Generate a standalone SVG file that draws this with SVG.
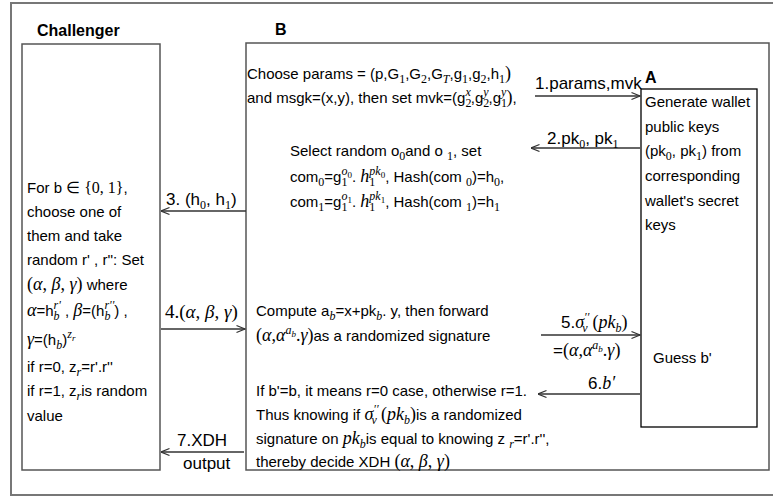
<svg xmlns="http://www.w3.org/2000/svg" width="773" height="497" viewBox="0 0 773 497">
<defs>
<style>
.t{font-family:"Liberation Sans",Arial,sans-serif;font-size:15px;fill:#000}
.l{font-family:"Liberation Sans",Arial,sans-serif;font-size:17px;fill:#000}
.h{font-family:"Liberation Sans",Arial,sans-serif;font-size:16px;font-weight:bold;fill:#000}
.it{font-family:"Liberation Serif","Times New Roman",serif;font-style:italic;font-size:18px}
.rm{font-family:"Liberation Serif","Times New Roman",serif;font-style:normal;font-size:18px}
.sub{font-family:"Liberation Serif","Times New Roman",serif;font-style:normal;font-size:12px;baseline-shift:-4px}
.subi{font-family:"Liberation Serif","Times New Roman",serif;font-style:italic;font-size:12px;baseline-shift:-4px}
.sup{font-family:"Liberation Serif","Times New Roman",serif;font-style:italic;font-size:12px;baseline-shift:7px}
.tiny{font-family:"Liberation Serif","Times New Roman",serif;font-style:italic;font-size:9px;baseline-shift:4px}
.box{fill:none;stroke:#555;stroke-width:1.5}
.abox{fill:#fff;stroke:#000;stroke-width:1.3}
.frame{fill:none;stroke:#777;stroke-width:2}
.c{fill:none;stroke:#333;stroke-width:1.5;marker-end:url(#ah)}
</style>
<marker id="ah" viewBox="0 0 10 10" refX="9.5" refY="5" markerWidth="10" markerHeight="10" markerUnits="userSpaceOnUse" orient="auto">
<path d="M1,1.5 L9.5,5 L1,8.5" fill="none" stroke="#333" stroke-width="1.3"/>
</marker>
</defs>
<rect width="773" height="497" fill="#fff"/>
<rect class="frame" x="11" y="3" width="775" height="492"/>

<g id="node-challenger">
<text class="h" x="37" y="36">Challenger</text>
<rect class="box" x="22" y="44" width="138" height="426"/>
<text class="t" x="27" y="193">For b <tspan class="rm" style="font-size:16px">∈ {0, 1}</tspan>,</text>
<text class="t" x="27" y="217">choose one of</text>
<text class="t" x="27" y="241">them and take</text>
<text class="t" x="27" y="265">random r' , r'': Set</text>
<text class="t" x="27" y="290"><tspan class="rm">(<tspan class="it">α</tspan>, <tspan class="it">β</tspan>, <tspan class="it">γ</tspan>)</tspan> where</text>
<text class="t" x="27" y="316"><tspan class="it">α</tspan>=h<tspan class="subi">b</tspan><tspan class="sup" dx="-6">r'</tspan> , <tspan class="it">β</tspan>=(h<tspan class="subi">b</tspan><tspan class="sup" dx="-6">r''</tspan>) ,</text>
<text class="t" x="27" y="345"><tspan class="it">γ</tspan>=(h<tspan class="subi">b</tspan>)<tspan class="sup">z</tspan><tspan class="tiny">r</tspan></text>
<text class="t" x="27" y="372">if r=0, z<tspan class="subi">r</tspan>=r'.r''</text>
<text class="t" x="27" y="396">if r=1, z<tspan class="subi">r</tspan>is random</text>
<text class="t" x="27" y="421">value</text>
</g>

<g id="node-b">
<text class="h" x="275" y="35">B</text>
<rect class="box" x="246" y="43" width="523" height="427"/>
<text class="t" x="247" y="79">Choose params = (p,G<tspan class="sub">1</tspan>,G<tspan class="sub">2</tspan>,G<tspan class="subi">T</tspan>,g<tspan class="sub">1</tspan>,g<tspan class="sub">2</tspan>,h<tspan class="sub">1</tspan><tspan class="rm">)</tspan></text>
<text class="t" x="247" y="103">and msgk=(x,y), then set mvk=(g<tspan class="sub">2</tspan><tspan class="sup" dx="-6">x</tspan>,g<tspan class="sub">2</tspan><tspan class="sup" dx="-6">y</tspan>,g<tspan class="sub">1</tspan><tspan class="sup" dx="-6">y</tspan><tspan class="rm">)</tspan>,</text>
<text class="t" x="290" y="156">Select random o<tspan class="sub">0</tspan>and o <tspan class="sub">1</tspan>, set</text>
<text class="t" x="290" y="182">com<tspan class="sub">0</tspan>=g<tspan class="sub">1</tspan><tspan class="sup" dx="-6">o</tspan><tspan class="tiny" style="font-style:normal">0</tspan>. <tspan class="it">h</tspan><tspan class="sub">1</tspan><tspan class="sup" dx="-6">pk</tspan><tspan class="tiny" style="font-style:normal">0</tspan>, Hash(com <tspan class="sub">0</tspan>)=h<tspan class="sub">0</tspan>,</text>
<text class="t" x="290" y="207">com<tspan class="sub">1</tspan>=g<tspan class="sub">1</tspan><tspan class="sup" dx="-6">o</tspan><tspan class="tiny" style="font-style:normal">1</tspan>. <tspan class="it">h</tspan><tspan class="sub">1</tspan><tspan class="sup" dx="-6">pk</tspan><tspan class="tiny" style="font-style:normal">1</tspan>, Hash(com <tspan class="sub">1</tspan>)=h<tspan class="sub">1</tspan></text>
<text class="t" x="256" y="316">Compute a<tspan class="subi">b</tspan>=x+pk<tspan class="subi">b</tspan>. y, then forward</text>
<text class="t" x="256" y="341"><tspan class="rm">(<tspan class="it">α</tspan>,<tspan class="it">α</tspan></tspan><tspan class="sup">a</tspan><tspan class="tiny">b</tspan><tspan class="rm">.<tspan class="it">γ</tspan>)</tspan>as a randomized signature</text>
<text class="t" x="256" y="396">If b'=b, it means r=0 case, otherwise r=1.</text>
<text class="t" x="256" y="420">Thus knowing if <tspan class="it">σ</tspan><tspan class="sup">′′</tspan><tspan class="subi" dx="-7">v</tspan> <tspan class="rm">(<tspan class="it">pk</tspan></tspan><tspan class="subi">b</tspan><tspan class="rm">)</tspan>is a randomized</text>
<text class="t" x="256" y="444">signature on <tspan class="it">pk</tspan><tspan class="subi">b</tspan>is equal to knowing z <tspan class="subi">r</tspan>=r'.r'',</text>
<text class="t" x="256" y="467">thereby decide XDH <tspan class="rm">(<tspan class="it">α</tspan>, <tspan class="it">β</tspan>, <tspan class="it">γ</tspan>)</tspan></text>
</g>

<g id="node-a">
<text class="h" x="645" y="83">A</text>
<rect class="abox" x="641" y="89" width="116" height="338"/>
<text class="t" x="645" y="107">Generate wallet</text>
<text class="t" x="645" y="132">public keys</text>
<text class="t" x="645" y="156">(pk<tspan class="sub">0</tspan>, pk<tspan class="sub">1</tspan>) from</text>
<text class="t" x="645" y="181">corresponding</text>
<text class="t" x="645" y="206">wallet's secret</text>
<text class="t" x="645" y="230">keys</text>
<text class="t" x="653" y="363">Guess b'</text>
</g>

<g id="connectors">
<path class="c" d="M535,96 L640,96"/>
<text class="l" x="535" y="89">1.params,mvk</text>
<path class="c" d="M640,148 L531,148"/>
<text class="l" x="547" y="144">2.pk<tspan class="sub">0</tspan>, pk<tspan class="sub">1</tspan></text>
<path class="c" d="M246,211 L161,211"/>
<text class="l" x="166" y="205">3. (h<tspan class="sub">0</tspan>, h<tspan class="sub">1</tspan>)</text>
<path class="c" d="M161,329 L245,329"/>
<text class="rm" x="165" y="318" style="font-size:19px">4.(<tspan class="it" style="font-size:19px">α</tspan>, <tspan class="it" style="font-size:19px">β</tspan>, <tspan class="it" style="font-size:19px">γ</tspan>)</text>
<path class="c" d="M541,335 L640,335"/>
<text class="l" x="561" y="328">5.<tspan class="it">σ</tspan><tspan class="sup">′′</tspan><tspan class="subi" dx="-7">v</tspan> <tspan class="rm">(<tspan class="it">pk</tspan></tspan><tspan class="subi">b</tspan><tspan class="rm">)</tspan></text>
<text class="l" x="553" y="356">=<tspan class="rm">(<tspan class="it">α</tspan>,<tspan class="it">α</tspan></tspan><tspan class="sup">a</tspan><tspan class="tiny">b</tspan><tspan class="rm">.<tspan class="it">γ</tspan>)</tspan></text>
<path class="c" d="M640,394 L538,394"/>
<text class="l" x="588" y="389">6.<tspan class="it">b′</tspan></text>
<path class="c" d="M244,452 L161,452"/>
<text class="l" x="177" y="446">7.XDH</text>
<text class="l" x="183" y="469">output</text>
</g>
</svg>
